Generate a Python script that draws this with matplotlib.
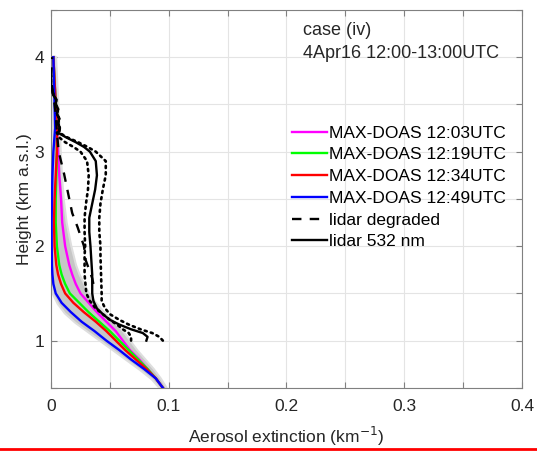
import matplotlib
matplotlib.use("Agg")
import matplotlib.pyplot as plt
from matplotlib.lines import Line2D
import numpy as np

plt.rcParams.update({
    "font.family": ["Liberation Sans", "DejaVu Sans"],
    "font.size": 12.5,
    "axes.edgecolor": "#808080",
    "axes.linewidth": 0.8,
    "xtick.color": "#808080",
    "ytick.color": "#808080",
    "xtick.labelcolor": "#262626",
    "ytick.labelcolor": "#262626",
})

# MAX-DOAS retrieved profiles (height km, extinction km-1)
doas_height = [0.5, 0.6, 0.7, 0.8, 0.9, 1.0, 1.1, 1.2, 1.3, 1.4, 1.5, 1.6, 1.7,
               1.8, 2.0, 2.25, 2.5, 2.75, 3.0, 3.25, 3.5, 3.75, 4.0]
doas_1203 = [0.095, 0.089, 0.082, 0.075, 0.067, 0.061, 0.055, 0.047, 0.039, 0.032,
             0.025, 0.021, 0.018, 0.0155, 0.012, 0.0095, 0.0085, 0.007, 0.006,
             0.005, 0.004, 0.003, 0.002]
doas_1219 = [0.095, 0.089, 0.082, 0.074, 0.066, 0.058, 0.050, 0.041, 0.032, 0.024,
             0.016, 0.012, 0.009, 0.007, 0.005, 0.004, 0.004, 0.0045, 0.005,
             0.005, 0.004, 0.003, 0.002]
doas_1234 = [0.095, 0.089, 0.081, 0.072, 0.063, 0.055, 0.047, 0.038, 0.028, 0.019,
             0.012, 0.0085, 0.006, 0.0045, 0.003, 0.0025, 0.003, 0.004, 0.005,
             0.005, 0.004, 0.003, 0.002]
doas_1249 = [0.095, 0.089, 0.079, 0.068, 0.058, 0.047, 0.037, 0.026, 0.017, 0.009,
             0.004, 0.002, 0.0012, 0.0008, 0.0006, 0.0005, 0.0008, 0.0012, 0.002,
             0.0035, 0.003, 0.0025, 0.002]
band_lo = [0.093, 0.086, 0.076, 0.065, 0.054, 0.043, 0.032, 0.021, 0.012, 0.006,
           0.002, 0.0008, 0.0003, 0.0, 0.0, 0.0, 0.0, 0.0, 0.001, 0.002, 0.002,
           0.002, 0.0015]
band_hi = [0.097, 0.092, 0.086, 0.079, 0.072, 0.066, 0.060, 0.052, 0.044, 0.037,
           0.031, 0.027, 0.023, 0.020, 0.016, 0.012, 0.0095, 0.008, 0.007, 0.006,
           0.005, 0.004, 0.003]

# lidar 532 nm and its uncertainty bounds
lidar_height = [1.0, 1.04, 1.08, 1.12, 1.17, 1.22, 1.28, 1.34, 1.42, 1.5, 1.7, 1.9,
                2.0, 2.15, 2.3, 2.45, 2.6, 2.75, 2.9, 3.0, 3.05, 3.1, 3.15, 3.2,
                3.25, 3.3, 3.35, 3.4, 3.45, 3.5, 3.55, 3.6, 3.65, 3.7, 3.8]
lidar_532 = [0.081, 0.082, 0.078, 0.068, 0.058, 0.050, 0.044, 0.039, 0.036, 0.035,
             0.035, 0.034, 0.0335, 0.0325, 0.0325, 0.035, 0.0375, 0.039, 0.038,
             0.033, 0.028, 0.021, 0.013, 0.006, 0.0075, 0.006, 0.007, 0.005, 0.006,
             0.004, 0.0045, 0.002, 0.001, 0.0, 0.0]
lidar_upper = [0.095, 0.092, 0.086, 0.076, 0.066, 0.058, 0.050, 0.046, 0.043, 0.043,
               0.0425, 0.042, 0.042, 0.041, 0.041, 0.042, 0.044, 0.0465, 0.0465,
               0.038, 0.031, 0.023, 0.014, 0.007, 0.0075, 0.006, 0.007, 0.005,
               0.006, 0.004, 0.0045, 0.002, 0.001, 0.0, 0.0]
lidar_lower = [0.068, 0.068, 0.066, 0.061, 0.056, 0.050, 0.044, 0.038, 0.033, 0.030,
               0.0285, 0.0285, 0.029, 0.0285, 0.0285, 0.0297, 0.0314, 0.032, 0.0306,
               0.025, 0.019, 0.012, 0.007, 0.005, 0.0075, 0.006, 0.007, 0.005,
               0.006, 0.004, 0.0045, 0.002, 0.001, 0.0, 0.0]

# lidar degraded to MAX-DOAS resolution
degraded_height = [1.6, 1.66, 1.85, 2.0, 2.2, 2.35, 2.5, 2.77, 3.0, 3.2, 3.4, 3.6,
                   3.75, 3.9, 4.0]
lidar_degraded = [0.036, 0.035, 0.0295, 0.028, 0.0226, 0.018, 0.0155, 0.011,
                  0.0065, 0.005, 0.004, 0.002, 0.0, 0.0005, 0.001]

doas_labels = ["MAX-DOAS 12:03UTC", "MAX-DOAS 12:19UTC",
               "MAX-DOAS 12:34UTC", "MAX-DOAS 12:49UTC"]
doas_colors = ["#ff00ff", "#00ff00", "#ff0000", "#0000ff"]

fig = plt.figure(figsize=(5.37, 4.51), dpi=100)
ax = fig.add_axes([0.095, 0.14, 0.877, 0.838])

# uncertainty band, soft edge underneath
ax.fill_betweenx(doas_height, band_lo, band_hi, color="#d6d6d6", lw=3,
                 edgecolor="#dedede", zorder=1)
ax.fill_betweenx(doas_height, band_lo, band_hi, color="#c6c6c6", lw=0, zorder=1)

for prof, col, lab in zip([doas_1203, doas_1219, doas_1234, doas_1249],
                          doas_colors, doas_labels):
    ax.plot(prof, doas_height, color=col, lw=1.7, label=lab, zorder=3)

ax.plot(lidar_degraded, degraded_height, color="black", lw=1.7,
        dashes=(4, 3.5), label="lidar degraded", zorder=4)
ax.plot(lidar_532, lidar_height, color="black", lw=1.7, label="lidar 532 nm", zorder=4)
for bound in (lidar_upper, lidar_lower):
    ax.plot(bound, lidar_height, color="black", lw=1.9,
            linestyle=(0, (0.8, 1.6)), dash_capstyle="round", zorder=4)

ax.set_xlim(0, 0.4)
ax.set_ylim(0.5, 4.5)
xt = np.arange(0, 0.401, 0.05)
ax.set_xticks(xt)
ax.set_xticklabels(["0" if i == 0 else (f"{v:.1f}" if i % 2 == 0 else "")
                    for i, v in enumerate(xt)])
yt = np.arange(0.5, 4.51, 0.5)
ax.set_yticks(yt)
ax.set_yticklabels([f"{v:.0f}" if v % 1 == 0 and v < 4.5 else "" for v in yt])
ax.tick_params(direction="in", length=4, width=0.8, top=True, right=True)
ax.tick_params(axis="x", pad=8)
ax.tick_params(axis="y", pad=5)
ax.grid(True, color="#e4e4e4", lw=0.8)
ax.set_axisbelow(True)

ax.set_xlabel("Aerosol extinction (km$^{-1}$)", color="#262626", labelpad=8)
ax.set_ylabel("Height (km a.s.l.)", color="#262626", labelpad=2)

ax.text(0.535, 0.945, "case (iv)", transform=ax.transAxes, fontsize=13,
        va="center", ha="left", color="#262626")
ax.text(0.535, 0.885, "4Apr16 12:00-13:00UTC", transform=ax.transAxes,
        fontsize=13, va="center", ha="left", color="#262626")

ax.legend(loc="upper left", bbox_to_anchor=(0.512, 0.694), frameon=False,
          borderaxespad=0, borderpad=0, handlelength=2.0, handletextpad=0.15,
          labelspacing=0.38, fontsize=12.5)

fig.add_artist(Line2D([0, 1], [0.004, 0.004], transform=fig.transFigure,
                      color="red", lw=2))

fig.savefig("out.png", dpi=100)
